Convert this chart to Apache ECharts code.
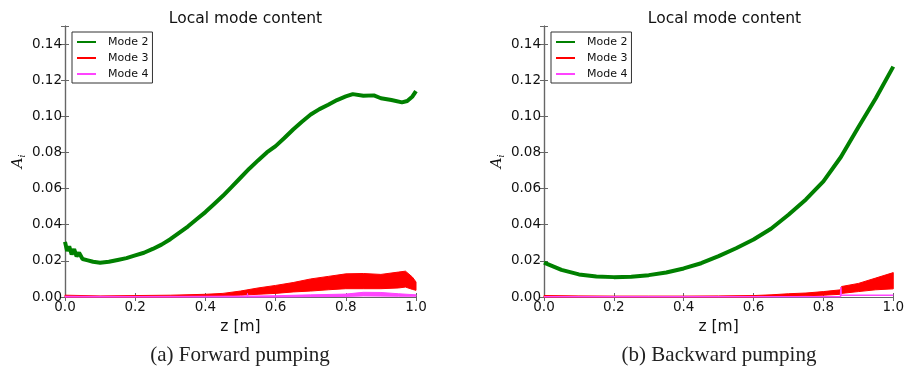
<!DOCTYPE html>
<html>
<head>
<meta charset="utf-8">
<script src="https://cdn.jsdelivr.net/npm/echarts@6/dist/echarts.min.js"></script>
<style>
  html, body { margin: 0; padding: 0; background: #fff; }
  #chart { width: 907px; height: 366px; }
</style>
</head>
<body>
<div id="chart"></div>
<script>
// ---- Forward pumping: mode content along z ----
const fwdZ2 = [0.000,0.006,0.012,0.019,0.026,0.033,0.040,0.050,0.065,0.080,0.100,0.125,0.150,0.175,0.200,0.225,0.250,0.275,0.300,0.325,0.350,0.375,0.400,0.425,0.450,0.475,0.500,0.525,0.550,0.575,0.600,0.625,0.650,0.675,0.700,0.725,0.750,0.775,0.800,0.820,0.850,0.880,0.900,0.930,0.960,0.975,0.990,1.000];
const fwdMode2 = [0.0305,0.0255,0.0280,0.0235,0.0265,0.0225,0.0245,0.0210,0.0203,0.0195,0.0190,0.0195,0.0205,0.0215,0.0230,0.0245,0.0266,0.0290,0.0320,0.0355,0.0390,0.0430,0.0470,0.0515,0.0560,0.0610,0.0660,0.0710,0.0756,0.0800,0.0835,0.0880,0.0927,0.0970,0.1010,0.1040,0.1064,0.1090,0.1110,0.1123,0.1114,0.1116,0.1100,0.1090,0.1077,0.1085,0.1110,0.1140];

const fwdZ3 = [0.00,0.10,0.20,0.30,0.40,0.45,0.50,0.55,0.60,0.65,0.70,0.75,0.80,0.85,0.90,0.95,0.97,0.99,1.00];
const fwdMode3Low  = [0.0000,0.0000,0.0000,0.0000,0.0003,0.0006,0.0010,0.0015,0.0020,0.0028,0.0033,0.0040,0.0046,0.0046,0.0046,0.0050,0.0055,0.0042,0.0037];
const fwdMode3High = [0.0010,0.0006,0.0008,0.0010,0.0015,0.0020,0.0033,0.0050,0.0064,0.0080,0.0100,0.0114,0.0128,0.0130,0.0125,0.0138,0.0143,0.0110,0.0083];

const fwdZ4 = [0.00,0.20,0.40,0.519,0.520,0.521,0.60,0.70,0.80,0.85,0.90,0.95,1.00];
const fwdMode4Low  = [0.0000,0.0000,0.0000,0.0000,0.0000,0.0000,0.0000,0.0002,0.0003,0.0006,0.0005,0.0004,0.0004];
const fwdMode4High = [0.0004,0.0003,0.0004,0.0005,0.0020,0.0005,0.0007,0.0012,0.0016,0.0026,0.0025,0.0018,0.0012];

// ---- Backward pumping: mode content along z ----
const bwdZ2 = [0.00,0.05,0.10,0.15,0.20,0.25,0.30,0.35,0.40,0.45,0.50,0.55,0.60,0.65,0.70,0.75,0.80,0.85,0.90,0.95,1.00];
const bwdMode2 = [0.0190,0.0150,0.0125,0.0114,0.0110,0.0112,0.0121,0.0136,0.0158,0.0187,0.0226,0.0270,0.0318,0.0378,0.0455,0.0540,0.0640,0.0775,0.0940,0.1100,0.1275];

const bwdZ3 = [0.00,0.10,0.20,0.30,0.40,0.50,0.60,0.65,0.70,0.75,0.80,0.85,0.852,0.90,0.95,1.00];
const bwdMode3Low  = [0.0000,0.0000,0.0000,0.0000,0.0000,0.0000,0.0000,0.0002,0.0004,0.0007,0.0010,0.0015,0.0020,0.0030,0.0040,0.0045];
const bwdMode3High = [0.0008,0.0006,0.0005,0.0005,0.0005,0.0006,0.0008,0.0012,0.0018,0.0022,0.0030,0.0040,0.0058,0.0075,0.0105,0.0135];

const bwdZ4 = [0.00,0.849,0.850,0.851,0.90,1.00];
const bwdMode4 = [0.0002,0.0002,0.0055,0.0009,0.0009,0.0010];

// ---- Axis ticks ----
const zTicks = [0.0, 0.2, 0.4, 0.6, 0.8, 1.0];
const aTicks = [0.00, 0.02, 0.04, 0.06, 0.08, 0.10, 0.12, 0.14];
const seriesNames = ['Mode 2', 'Mode 3', 'Mode 4'];
const panelTitles = ['Local mode content', 'Local mode content'];
const captions = ['(a) Forward pumping', '(b) Backward pumping'];

const GREEN = '#008000', RED = '#ff0000', MAGENTA = '#ff44ff';
const FRAME = '#666';
const SANS = 'DejaVu Sans';

const pairs = (xs, ys) => xs.map((x, i) => [x, ys[i]]);

const grids = [
  { left: 65, top: 26, width: 351, height: 271 },
  { left: 544, top: 26, width: 351, height: 271 }
];

function axesFor(g) {
  const tick = { show: true, inside: true, length: 4, lineStyle: { color: FRAME, width: 1 } };
  const line = { show: true, lineStyle: { color: FRAME, width: 1.2 } };
  const xs = [
    { type: 'value', gridIndex: g, min: 0, max: 1, interval: 0.2, position: 'bottom',
      axisLine: line, axisTick: tick, splitLine: { show: false },
      axisLabel: { margin: 3, fontFamily: SANS, fontSize: 13.5, color: '#111',
        formatter: v => zTicks.some(t => Math.abs(t - v) < 1e-9) ? v.toFixed(1) : '' },
      name: 'z [m]', nameLocation: 'middle', nameGap: 16,
      nameTextStyle: { fontFamily: SANS, fontSize: 15.5, color: '#111' } },
    { type: 'value', gridIndex: g, min: 0, max: 1, interval: 0.2, position: 'top',
      axisLine: line, axisTick: tick, splitLine: { show: false }, axisLabel: { show: false } }
  ];
  const ys = [
    { type: 'value', gridIndex: g, min: 0, max: 0.15, interval: 0.02, position: 'left',
      axisLine: line, axisTick: tick, splitLine: { show: false },
      axisLabel: { margin: 3, fontFamily: SANS, fontSize: 13.5, color: '#111',
        formatter: v => aTicks.some(t => Math.abs(t - v) < 1e-9) ? v.toFixed(2) : '' },
      name: '{a|A}{i|i}', nameLocation: 'middle', nameRotate: 90, nameGap: 38,
      nameTextStyle: { rich: {
        a: { fontFamily: 'DejaVu Serif', fontStyle: 'italic', fontSize: 15, color: '#111' },
        i: { fontFamily: 'DejaVu Serif', fontStyle: 'italic', fontSize: 9, color: '#111', verticalAlign: 'bottom', padding: [8, 0, 0, 0] }
      } } },
    { type: 'value', gridIndex: g, min: 0, max: 0.15, interval: 0.02, position: 'right',
      axisLine: line, axisTick: tick, splitLine: { show: false }, axisLabel: { show: false } }
  ];
  return { xs, ys };
}

const xAxes = [], yAxes = [];
[0, 1].forEach(g => {
  const a = axesFor(g);
  xAxes.push(...a.xs);
  yAxes.push(...a.ys);
});

function lineSeries(name, g, data, color, width, z) {
  return { name, type: 'line', xAxisIndex: g * 2, yAxisIndex: g * 2, data,
    showSymbol: false, symbol: 'none', silent: true, z: z, clip: true,
    lineStyle: { color, width }, itemStyle: { color } };
}

// Oscillation envelope drawn as a filled polygon between the low and high curves.
function bandSeries(name, g, xs, lo, hi, color, z) {
  const rows = xs.map((x, i) => [x, lo[i], hi[i]]);
  return {
    name, type: 'custom', xAxisIndex: g * 2, yAxisIndex: g * 2, z, silent: true,
    itemStyle: { color },
    encode: { x: 0, y: [1, 2] },
    data: rows,
    renderItem: (params, api) => {
      if (params.dataIndex !== 0) return null;
      const upper = rows.map(r => api.coord([r[0], r[2]]));
      const lower = rows.map(r => api.coord([r[0], r[1]])).reverse();
      return {
        type: 'polygon',
        shape: { points: upper.concat(lower) },
        style: { fill: color, stroke: color, lineWidth: 1 }
      };
    }
  };
}

const series = [
  lineSeries('Mode 2', 0, pairs(fwdZ2, fwdMode2), GREEN, 4, 2),
  bandSeries('Mode 3', 0, fwdZ3, fwdMode3Low, fwdMode3High, RED, 3),
  bandSeries('Mode 4', 0, fwdZ4, fwdMode4Low, fwdMode4High, MAGENTA, 4),
  lineSeries('Mode 2', 1, pairs(bwdZ2, bwdMode2), GREEN, 4, 2),
  bandSeries('Mode 3', 1, bwdZ3, bwdMode3Low, bwdMode3High, RED, 3),
  lineSeries('Mode 4', 1, pairs(bwdZ4, bwdMode4), MAGENTA, 1.5, 4)
];

const legendBase = {
  data: seriesNames.map(n => ({ name: n, icon: 'rect' })), orient: 'vertical', top: 32,
  itemWidth: 19, itemHeight: 2, itemGap: 0,
  padding: [2, 4, 1, 5], borderColor: '#333', borderWidth: 1, borderRadius: 0,
  backgroundColor: '#fff', selectedMode: false,
  textStyle: { fontFamily: SANS, fontSize: 11, color: '#111', lineHeight: 16, padding: [0, 0, 0, 7] }
};

const titles = [];
grids.forEach((g, i) => {
  titles.push({ text: panelTitles[i], left: g.left + g.width / 2, top: 6, textAlign: 'center',
    textStyle: { fontFamily: SANS, fontSize: 15.5, fontWeight: 'normal', color: '#111' } });
});
titles.push({ text: captions[0], left: 235, top: 340, textAlign: 'center',
  textStyle: { fontFamily: 'Liberation Serif', fontSize: 21, fontWeight: 'normal', color: '#222' } });
titles.push({ text: captions[1], left: 714, top: 340, textAlign: 'center',
  textStyle: { fontFamily: 'Liberation Serif', fontSize: 21, fontWeight: 'normal', color: '#222' } });

const chart = echarts.init(document.getElementById('chart'), null, { renderer: 'canvas' });
chart.setOption({
  backgroundColor: '#fff',
  animation: false,
  title: titles,
  grid: grids,
  legend: [
    Object.assign({}, legendBase, { left: 72 }),
    Object.assign({}, legendBase, { left: 551 })
  ],
  xAxis: xAxes,
  yAxis: yAxes,
  series
});
</script>
</body>
</html>
